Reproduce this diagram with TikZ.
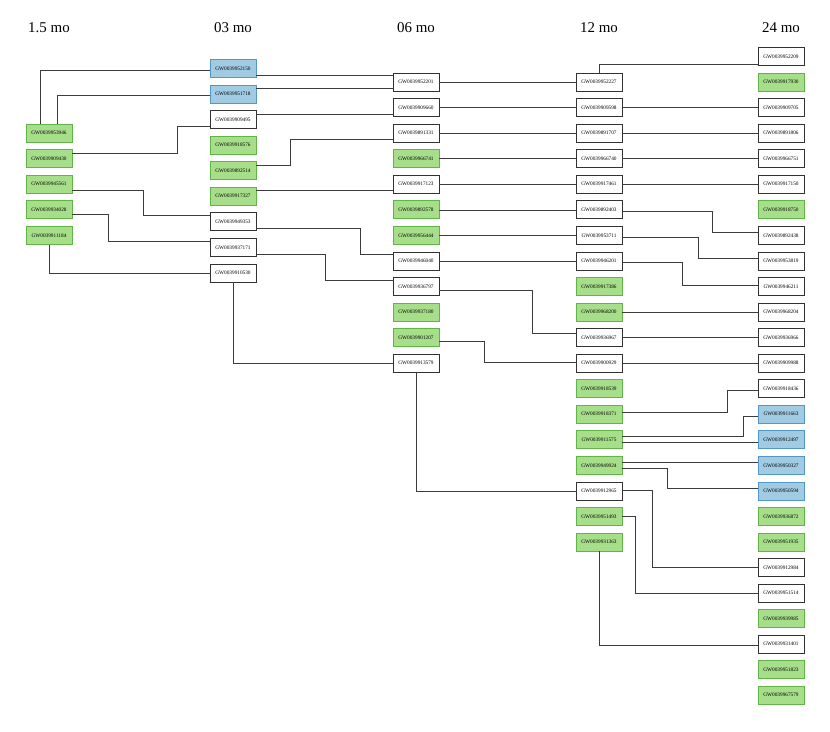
\documentclass[tikz,border=0pt]{standalone}
\usepackage{fontspec}
\setmainfont{Liberation Serif}
\definecolor{gfill}{RGB}{166,222,138}
\definecolor{gline}{RGB}{96,180,72}
\definecolor{bfill}{RGB}{160,203,227}
\definecolor{bline}{RGB}{84,150,200}
\definecolor{wline}{RGB}{50,50,50}
\definecolor{lnk}{RGB}{60,60,60}
\newcommand\mknode[4]{\node[#1] (n#2) at (#3,#4) {GW0039#2};}
\begin{document}
\begin{tikzpicture}[x=1bp,y=-1bp,
  box/.style={draw, line width=0.7bp, minimum width=46bp, minimum height=18bp, inner sep=0pt, font=\fontsize{5.3}{6}\selectfont},
  wb/.style={box, draw=wline, fill=white},
  gb/.style={box, draw=gline, fill=gfill},
  bb/.style={box, draw=bline, fill=bfill},
  hdr/.style={font=\fontsize{15}{18}\selectfont, inner sep=0pt},
  link/.style={draw=lnk, line width=0.6bp}]
\useasboundingbox (0,0) rectangle (830,732);
% headers
\node[hdr] (h1) at (49,28) {1.5 mo};
\node[hdr] (h2) at (233,28) {03 mo};
\node[hdr] (h3) at (416,28) {06 mo};
\node[hdr] (h4) at (599,28) {12 mo};
\node[hdr] (h5) at (781,28) {24 mo};
% column 1
\mknode{gb}{953946}{49}{56.5+25.55*3}
\mknode{gb}{909430}{49}{56.5+25.55*4}
\mknode{gb}{945561}{49}{56.5+25.55*5}
\mknode{gb}{934028}{49}{56.5+25.55*6}
\mknode{gb}{911184}{49}{56.5+25.55*7}
% column 2
\mknode{bb}{952150}{233}{68.5+25.55*0}
\mknode{bb}{951718}{233}{68.5+25.55*1}
\mknode{wb}{909495}{233}{68.5+25.55*2}
\mknode{gb}{918576}{233}{68.5+25.55*3}
\mknode{gb}{892514}{233}{68.5+25.55*4}
\mknode{gb}{917327}{233}{68.5+25.55*5}
\mknode{wb}{949353}{233}{68.5+25.55*6}
\mknode{wb}{937171}{233}{68.5+25.55*7}
\mknode{wb}{910530}{233}{68.5+25.55*8}
% column 3
\mknode{wb}{952201}{416}{56.5+25.55*1}
\mknode{wb}{909660}{416}{56.5+25.55*2}
\mknode{wb}{891331}{416}{56.5+25.55*3}
\mknode{gb}{966741}{416}{56.5+25.55*4}
\mknode{wb}{917123}{416}{56.5+25.55*5}
\mknode{gb}{892578}{416}{56.5+25.55*6}
\mknode{gb}{956444}{416}{56.5+25.55*7}
\mknode{wb}{946040}{416}{56.5+25.55*8}
\mknode{wb}{936797}{416}{56.5+25.55*9}
\mknode{gb}{937180}{416}{56.5+25.55*10}
\mknode{gb}{901207}{416}{56.5+25.55*11}
\mknode{wb}{913579}{416}{56.5+25.55*12}
% column 4
\mknode{wb}{952227}{599}{56.5+25.55*1}
\mknode{wb}{909598}{599}{56.5+25.55*2}
\mknode{wb}{891707}{599}{56.5+25.55*3}
\mknode{wb}{966740}{599}{56.5+25.55*4}
\mknode{wb}{917461}{599}{56.5+25.55*5}
\mknode{wb}{892403}{599}{56.5+25.55*6}
\mknode{wb}{953711}{599}{56.5+25.55*7}
\mknode{wb}{946201}{599}{56.5+25.55*8}
\mknode{gb}{917386}{599}{56.5+25.55*9}
\mknode{gb}{968200}{599}{56.5+25.55*10}
\mknode{wb}{936967}{599}{56.5+25.55*11}
\mknode{wb}{900929}{599}{56.5+25.55*12}
\mknode{gb}{918539}{599}{56.5+25.55*13}
\mknode{gb}{918371}{599}{56.5+25.55*14}
\mknode{gb}{911575}{599}{56.5+25.55*15}
\mknode{gb}{949924}{599}{56.5+25.55*16}
\mknode{wb}{912965}{599}{56.5+25.55*17}
\mknode{gb}{951493}{599}{56.5+25.55*18}
\mknode{gb}{931363}{599}{56.5+25.55*19}
% column 5
\mknode{wb}{952209}{781}{56.5+25.55*0}
\mknode{gb}{917930}{781}{56.5+25.55*1}
\mknode{wb}{909705}{781}{56.5+25.55*2}
\mknode{wb}{891806}{781}{56.5+25.55*3}
\mknode{wb}{966751}{781}{56.5+25.55*4}
\mknode{wb}{917150}{781}{56.5+25.55*5}
\mknode{gb}{918750}{781}{56.5+25.55*6}
\mknode{wb}{892438}{781}{56.5+25.55*7}
\mknode{wb}{953819}{781}{56.5+25.55*8}
\mknode{wb}{946211}{781}{56.5+25.55*9}
\mknode{wb}{968204}{781}{56.5+25.55*10}
\mknode{wb}{936966}{781}{56.5+25.55*11}
\mknode{wb}{909988}{781}{56.5+25.55*12}
\mknode{wb}{918436}{781}{56.5+25.55*13}
\mknode{bb}{911663}{781}{56.5+25.55*14}
\mknode{bb}{912497}{781}{56.5+25.55*15}
\mknode{bb}{950327}{781}{56.5+25.55*16}
\mknode{bb}{950594}{781}{56.5+25.55*17}
\mknode{gb}{936872}{781}{56.5+25.55*18}
\mknode{gb}{951935}{781}{56.5+25.55*19}
\mknode{wb}{912984}{781}{56.5+25.55*20}
\mknode{wb}{951514}{781}{56.5+25.55*21}
\mknode{gb}{939985}{781}{56.5+25.55*22}
\mknode{wb}{931401}{781}{56.5+25.55*23}
\mknode{gb}{951823}{781}{56.5+25.55*24}
\mknode{gb}{967579}{781}{56.5+25.55*25}
% links 1.5 -> 03
\path[link] (n953946.north -| 40,0) -- (40,70) -- (n952150.west |- 0,70);
\path[link] (n953946.north -| 57,0) -- (57,95) -- (n951718.west |- 0,95);
\path[link] (n909430.east |- 0,153) -- (177,153) -- (177,126) -- (n909495.west |- 0,126);
\path[link] (n945561.east |- 0,190) -- (143,190) -- (143,215) -- (n949353.west |- 0,215);
\path[link] (n934028.east |- 0,214) -- (108,214) -- (108,241) -- (n937171.west |- 0,241);
\path[link] (n911184.south) -- (49,273) -- (n910530.west |- 0,273);
% links 03 -> 06
\path[link] (n952150.east |- 0,75) -- (n952201.west |- 0,75);
\path[link] (n951718.east |- 0,88.5) -- (n952201.west |- 0,88.5);
\path[link] (n909495.east |- 0,114) -- (n909660.west |- 0,114);
\path[link] (n892514.east |- 0,165) -- (290,165) -- (290,139) -- (n891331.west |- 0,139);
\path[link] (n917327.east |- 0,190) -- (n917123.west |- 0,190);
\path[link] (n949353.east |- 0,228) -- (360,228) -- (360,254) -- (n946040.west |- 0,254);
\path[link] (n937171.east |- 0,254) -- (325,254) -- (325,280) -- (n936797.west |- 0,280);
\path[link] (n910530.south) -- (233,363) -- (n913579.west |- 0,363);
% links 06 -> 12
\path[link] (n952201.east) -- (n952227.west);
\path[link] (n909660.east) -- (n909598.west);
\path[link] (n891331.east) -- (n891707.west);
\path[link] (n966741.east) -- (n966740.west);
\path[link] (n917123.east) -- (n917461.west);
\path[link] (n892578.east) -- (n892403.west);
\path[link] (n956444.east) -- (n953711.west);
\path[link] (n946040.east) -- (n946201.west);
\path[link] (n936797.east |- 0,290) -- (532,290) -- (532,333) -- (n936967.west |- 0,333);
\path[link] (n901207.east |- 0,341) -- (484,341) -- (484,362) -- (n900929.west |- 0,362);
\path[link] (n913579.south) -- (416,491) -- (n912965.west |- 0,491);
% links 12 -> 24
\path[link] (n952227.north) -- (599,64) -- (n952209.west |- 0,64);
\path[link] (n909598.east) -- (n909705.west);
\path[link] (n891707.east) -- (n891806.west);
\path[link] (n966740.east) -- (n966751.west);
\path[link] (n917461.east) -- (n917150.west);
\path[link] (n892403.east |- 0,211) -- (712,211) -- (712,232) -- (n892438.west |- 0,232);
\path[link] (n953711.east |- 0,237) -- (698,237) -- (698,258) -- (n953819.west |- 0,258);
\path[link] (n946201.east |- 0,262) -- (682,262) -- (682,285) -- (n946211.west |- 0,285);
\path[link] (n968200.east) -- (n968204.west);
\path[link] (n936967.east) -- (n936966.west);
\path[link] (n900929.east) -- (n909988.west);
\path[link] (n918371.east |- 0,412) -- (727,412) -- (727,390) -- (n918436.west |- 0,390);
\path[link] (n911575.east |- 0,436) -- (743,436) -- (743,416) -- (n911663.west |- 0,416);
\path[link] (n911575.east |- 0,442) -- (n912497.west |- 0,442);
\path[link] (n949924.east |- 0,462) -- (n950327.west |- 0,462);
\path[link] (n949924.east |- 0,468) -- (667,468) -- (667,488) -- (n950594.west |- 0,488);
\path[link] (n912965.east |- 0,490) -- (652,490) -- (652,567) -- (n912984.west |- 0,567);
\path[link] (n951493.east |- 0,516) -- (635,516) -- (635,593) -- (n951514.west |- 0,593);
\path[link] (n931363.south) -- (599,645) -- (n931401.west |- 0,645);
\end{tikzpicture}
\end{document}
